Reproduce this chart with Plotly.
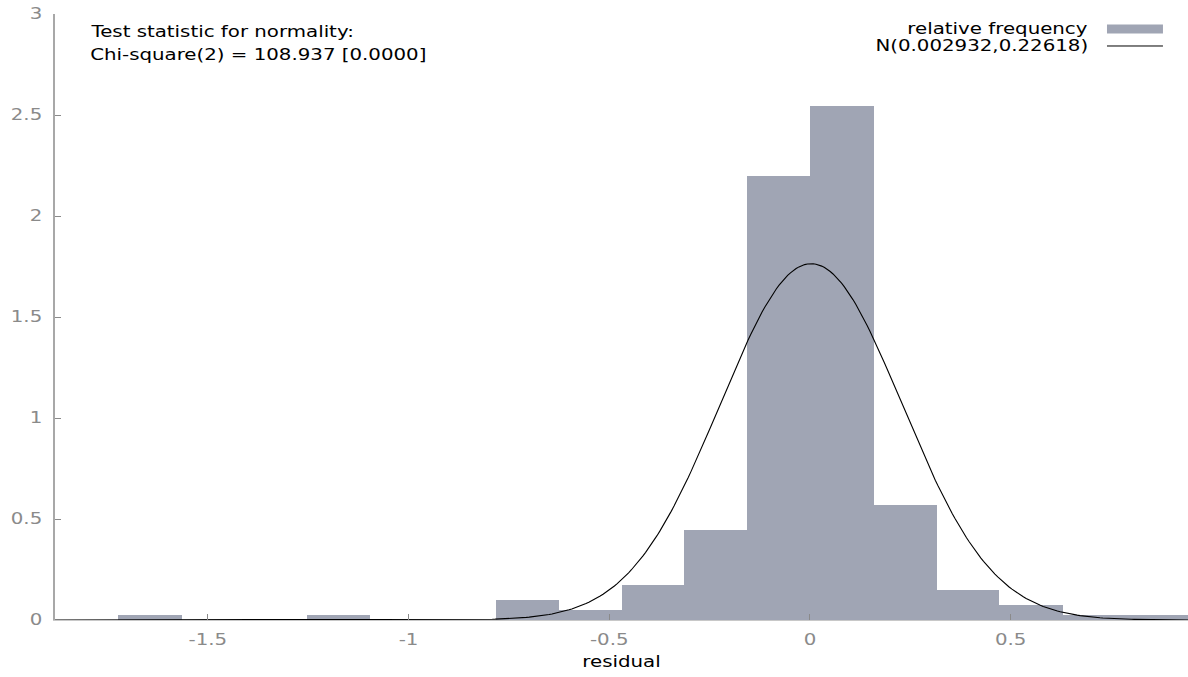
import numpy as np
import plotly.graph_objects as go

# ---- data ----
bin_centers = [-1.645, -1.175, -0.704, -0.547, -0.390, -0.234, -0.077,
               0.080, 0.237, 0.393, 0.550, 0.707, 0.863]
rel_freq = [0.0247, 0.0247, 0.0988, 0.0494, 0.173, 0.445, 2.198,
            2.544, 0.568, 0.148, 0.0741, 0.0247, 0.0247]
bin_width = 0.1567
normal_mean = 0.002932
normal_sd = 0.22618
x_range = [-1.881, 0.942]
y_range = [0, 3]
x_ticks = [-1.5, -1, -0.5, 0, 0.5]
x_tick_labels = ["-1.5", "-1", "-0.5", "0", "0.5"]
y_ticks = [0, 0.5, 1, 1.5, 2, 2.5, 3]
y_tick_labels = ["0", "0.5", "1", "1.5", "2", "2.5", "3"]
hist_name = "relative frequency"
curve_name = "N(0.002932,0.22618)"
test_text = ["Test statistic for normality:", "Chi-square(2) = 108.937 [0.0000]"]
x_title = "residual"

FONT = "DejaVu Sans"
BAR_COLOR = "#a0a5b4"
GRAY = "#8a8a8a"
TEXT_STRETCH = 1.32  # reference glyphs are horizontally wide

# normal density defined by the stated parameters
xs = np.linspace(x_range[0], x_range[1], 400)
pdf = np.exp(-0.5 * ((xs - normal_mean) / normal_sd) ** 2) / (normal_sd * np.sqrt(2 * np.pi))

fig = go.Figure()
fig.add_trace(go.Bar(x=bin_centers, y=rel_freq, width=bin_width * 1.012, name=hist_name,
                     marker=dict(color=BAR_COLOR, line=dict(width=0)),
                     showlegend=False))
fig.add_trace(go.Scatter(x=xs, y=pdf, mode="lines", name=curve_name,
                         line=dict(color="black", width=1.1), showlegend=False))

fig.update_layout(
    width=1188, height=677,
    margin=dict(l=55, r=0, t=14, b=57, autoexpand=False),
    paper_bgcolor="white", plot_bgcolor="white",
    font=dict(family=FONT, size=15, color="black"),
    bargap=0,
)
fig.update_xaxes(range=x_range, tickvals=x_ticks, ticktext=x_tick_labels, automargin=False,
                 showgrid=False, zeroline=False, showline=True, linecolor="#c8c8c8", linewidth=1,
                 ticks="inside", ticklen=6, tickcolor=GRAY, tickwidth=1, ticklabeloverflow="allow",
                 tickfont=dict(family=FONT, size=15, color=GRAY), ticklabelstandoff=6,
                 title=dict(text=x_title, font=dict(family=FONT, size=15, color="black"), standoff=8))
fig.update_yaxes(range=y_range, tickvals=y_ticks, ticktext=y_tick_labels, automargin=False,
                 showgrid=False, zeroline=False, showline=True, linecolor="#a8a8a8", linewidth=1.5,
                 ticks="inside", ticklen=6, tickcolor=GRAY, tickwidth=1, ticklabeloverflow="allow",
                 tickfont=dict(family=FONT, size=15, color=GRAY), ticklabelstandoff=8)

# test statistic text (top-left)
test_y = [0.9703, 0.9323]
for t, yy in zip(test_text, test_y):
    fig.add_annotation(xref="paper", yref="paper", x=0.0291, y=yy,
                       text=t, showarrow=False, xanchor="left", yanchor="middle",
                       font=dict(family=FONT, size=15, color="black"))

# gretl-style legend: label then key on the right
legend_x_text = 0.9135
key_x0, key_x1 = 0.9285, 0.9779
leg_y = [0.9752, 0.9472]
fig.add_annotation(xref="paper", yref="paper", x=legend_x_text, y=leg_y[0], text=hist_name,
                   showarrow=False, xanchor="right", yanchor="middle",
                   font=dict(family=FONT, size=15, color="black"))
fig.add_annotation(xref="paper", yref="paper", x=legend_x_text, y=leg_y[1], text=curve_name,
                   showarrow=False, xanchor="right", yanchor="middle",
                   font=dict(family=FONT, size=15, color="black"))
fig.add_shape(type="rect", xref="paper", yref="paper", x0=key_x0, x1=key_x1,
              y0=leg_y[0] - 0.0075, y1=leg_y[0] + 0.0075, fillcolor=BAR_COLOR, line=dict(width=0))
fig.add_shape(type="line", xref="paper", yref="paper", x0=key_x0, x1=key_x1,
              y0=leg_y[1], y1=leg_y[1], line=dict(color="black", width=1))

# remove the page margin, then widen glyphs horizontally around each text's anchor
post_js = """
document.body.style.margin = '0';
var gd = document.getElementById('{plot_id}');
var S = %s;
gd.querySelectorAll('svg text').forEach(function(t){
  var ax = parseFloat(t.getAttribute('x')) || 0;
  var ann = t.closest('g.annotation');
  if (ann) {
    var bb = t.getBBox();
    var idx = parseInt(ann.getAttribute('data-index'));
    ax = (idx < 2) ? bb.x : bb.x + bb.width;
  }
  var tr = t.getAttribute('transform') || '';
  t.setAttribute('transform', tr + ' translate(' + ax + ',0) scale(' + S + ',1) translate(' + (-ax) + ',0)');
});
""" % TEXT_STRETCH

fig.write_html("out.html", post_script=post_js, config={"displayModeBar": False})
